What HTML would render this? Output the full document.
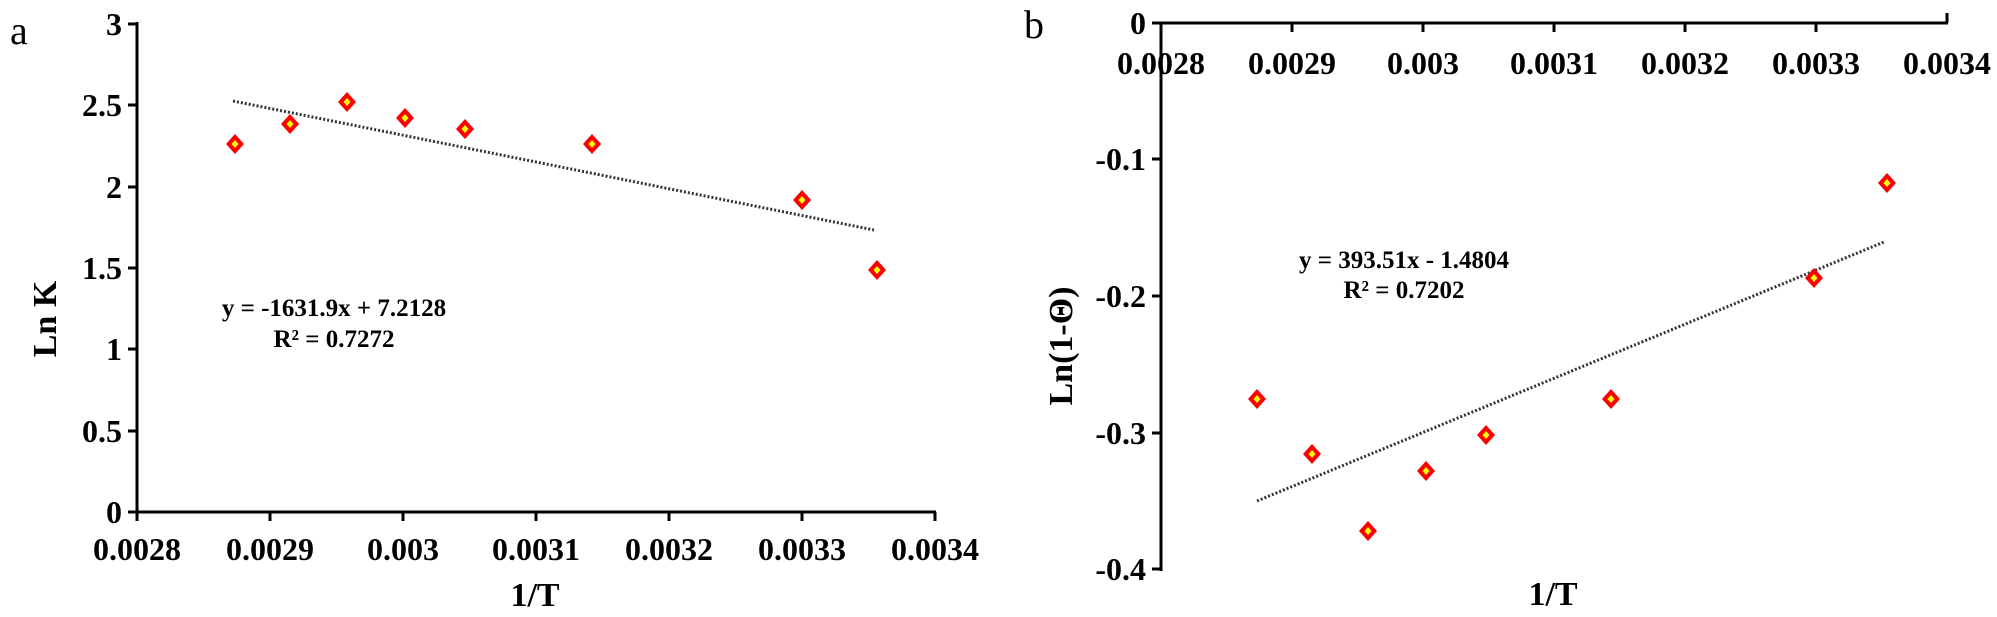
<!DOCTYPE html>
<html><head><style>body{margin:0;background:#fff}svg{display:block}</style></head><body>
<svg width="1997" height="617" viewBox="0 0 1997 617" xmlns="http://www.w3.org/2000/svg" font-family="Liberation Serif, serif">
<defs>
<g id="m"><path d="M0,-10 L9,0 L0,10 L-9,0 Z" fill="#ff0000"/><path d="M0,-4 L3.5,0 L0,4 L-3.5,0 Z" fill="#ffff00"/></g>
</defs>
<!-- Chart a -->
<text x="10" y="44" font-size="40">a</text>
<g stroke="#000" stroke-width="3" fill="none">
<line x1="137" y1="22" x2="137" y2="513"/>
<line x1="135" y1="512" x2="936" y2="512"/>
<path d="M128,24H137M128,105H137M128,187H137M128,268H137M128,349H137M128,431H137M128,512H137"/>
<path d="M137,512V521M270,512V521M403,512V521M536,512V521M669,512V521M802,512V521M935,512V521"/>
</g>
<g font-size="32" font-weight="bold" text-anchor="end">
<text x="122" y="35">3</text><text x="122" y="116">2.5</text><text x="122" y="198">2</text><text x="122" y="279">1.5</text><text x="122" y="360">1</text><text x="122" y="442">0.5</text><text x="122" y="523">0</text>
</g>
<g font-size="32" font-weight="bold" text-anchor="middle">
<text x="137" y="560">0.0028</text><text x="270" y="560">0.0029</text><text x="403" y="560">0.003</text><text x="536" y="560">0.0031</text><text x="669" y="560">0.0032</text><text x="802" y="560">0.0033</text><text x="935" y="560">0.0034</text>
<text x="535" y="606" font-size="34">1/T</text>
<text transform="translate(56,319) rotate(-90)" font-size="34">Ln K</text>
</g>
<line x1="233" y1="101" x2="874" y2="230" stroke="#333" stroke-width="3" stroke-dasharray="2,2"/>
<g text-anchor="middle" font-size="25" font-weight="bold">
<text x="334" y="316">y = -1631.9x + 7.2128</text>
<text x="334" y="347">R² = 0.7272</text>
</g>
<use href="#m" x="235" y="144"/><use href="#m" x="290" y="124"/><use href="#m" x="347" y="102"/><use href="#m" x="405" y="118"/><use href="#m" x="465" y="129"/><use href="#m" x="592" y="144"/><use href="#m" x="802" y="200"/><use href="#m" x="877" y="270"/>
<!-- Chart b -->
<text x="1024" y="38" font-size="40">b</text>
<g stroke="#000" stroke-width="3" fill="none">
<line x1="1161" y1="22" x2="1161" y2="571"/>
<line x1="1152" y1="23" x2="1948" y2="23"/>
<path d="M1152,23H1161M1152,159H1161M1152,296H1161M1152,433H1161M1152,569H1161"/>
<path d="M1292,23V32M1423,23V32M1554,23V32M1685,23V32M1816,23V32M1947,23V13"/>
</g>
<g font-size="32" font-weight="bold" text-anchor="end">
<text x="1146" y="34">0</text><text x="1146" y="170">-0.1</text><text x="1146" y="307">-0.2</text><text x="1146" y="444">-0.3</text><text x="1146" y="580">-0.4</text>
</g>
<g font-size="32" font-weight="bold" text-anchor="middle">
<text x="1161" y="74">0.0028</text><text x="1292" y="74">0.0029</text><text x="1423" y="74">0.003</text><text x="1554" y="74">0.0031</text><text x="1685" y="74">0.0032</text><text x="1816" y="74">0.0033</text><text x="1947" y="74">0.0034</text>
<text x="1553" y="605" font-size="34">1/T</text>
<text transform="translate(1072,346) rotate(-90)" font-size="34">Ln(1-Θ)</text>
</g>
<line x1="1257" y1="501" x2="1884" y2="242" stroke="#333" stroke-width="3" stroke-dasharray="2,2"/>
<g text-anchor="middle" font-size="25" font-weight="bold">
<text x="1404" y="268">y = 393.51x - 1.4804</text>
<text x="1404" y="298">R² = 0.7202</text>
</g>
<use href="#m" x="1257" y="399"/><use href="#m" x="1312" y="454"/><use href="#m" x="1368" y="531"/><use href="#m" x="1426" y="471"/><use href="#m" x="1486" y="435"/><use href="#m" x="1611" y="399"/><use href="#m" x="1814" y="278"/><use href="#m" x="1887" y="183"/>
</svg>
</body></html>
